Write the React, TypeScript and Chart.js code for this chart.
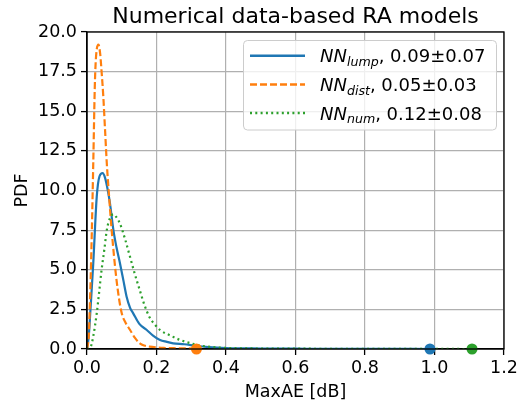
import React, { useEffect, useRef } from "react";
import { Chart, registerables } from "chart.js";

Chart.register(...registerables);

const lumpX = [0, 0.005, 0.01, 0.018, 0.028, 0.036, 0.045, 0.052, 0.06, 0.066, 0.076, 0.085, 0.095, 0.105, 0.114, 0.124, 0.133, 0.15, 0.172, 0.19, 0.21, 0.23, 0.248, 0.28, 0.316, 0.35, 0.4, 0.5, 0.6, 0.7, 0.8, 0.9, 0.987];
const lumpY = [0, 0.8, 2.5, 5.4, 9.6, 10.9, 11.1, 10.8, 10.0, 9.2, 7.5, 6.4, 5.4, 4.3, 3.3, 2.6, 2.25, 1.6, 1.2, 0.85, 0.57, 0.45, 0.36, 0.3, 0.19, 0.12, 0.06, 0.03, 0.02, 0.01, 0.01, 0.005, 0];

const distX = [0, 0.005, 0.009, 0.014, 0.018, 0.023, 0.028, 0.033, 0.038, 0.042, 0.047, 0.052, 0.057, 0.064, 0.071, 0.078, 0.085, 0.092, 0.1, 0.11, 0.124, 0.138, 0.152, 0.165, 0.18, 0.2, 0.22, 0.25, 0.28, 0.315];
const distY = [0, 0.8, 3.3, 7.5, 11.7, 17.0, 18.9, 19.2, 18.6, 17.5, 15.9, 13.8, 11.7, 9.5, 7.5, 5.8, 4.35, 3.2, 2.25, 1.7, 1.2, 0.7, 0.36, 0.22, 0.15, 0.1, 0.07, 0.05, 0.04, 0.02];

const numX = [0, 0.01, 0.018, 0.028, 0.035, 0.042, 0.05, 0.057, 0.065, 0.076, 0.085, 0.095, 0.11, 0.124, 0.138, 0.152, 0.165, 0.18, 0.195, 0.21, 0.24, 0.268, 0.3, 0.316, 0.35, 0.4, 0.5, 0.6, 0.7, 0.8, 0.9, 1.0, 1.108];
const numY = [0, 0.1, 0.8, 2.25, 3.6, 5.0, 6.3, 7.5, 8.2, 8.5, 8.3, 7.9, 6.9, 5.8, 4.7, 3.7, 2.8, 2.0, 1.55, 1.2, 0.85, 0.57, 0.35, 0.25, 0.15, 0.07, 0.03, 0.02, 0.015, 0.01, 0.01, 0.005, 0];

const maxX = [0.315, 0.987, 1.108];
const maxY = [0, 0, 0];

const seriesNames = ["lump", "dist", "num"];
const seriesStats = [", 0.09±0.07", ", 0.05±0.03", ", 0.12±0.08"];
const colors = ["#1f77b4", "#ff7f0e", "#2ca02c"];
const dashes = [[], [7, 3], [2, 3.3]];

const titleText = "Numerical data-based RA models";
const xLabel = "MaxAE [dB]";
const yLabel = "PDF";

const FONT = "'DejaVu Sans', sans-serif";

const pts = (xs: number[], ys: number[]) => xs.map((x, i) => ({ x, y: ys[i] }));

export default function App() {
  const ref = useRef<HTMLCanvasElement | null>(null);
  useEffect(() => {
    if (!ref.current) return;
    const overlay = {
      id: "overlay",
      afterDraw(chart: any) {
        const ctx = chart.ctx;
        const a = chart.chartArea;
        ctx.save();
        ctx.strokeStyle = "#000";
        ctx.lineWidth = 1.3;
        ctx.strokeRect(a.left, a.top, a.right - a.left, a.bottom - a.top);
        ctx.fillStyle = "#000";
        ctx.font = `22px ${FONT}`;
        ctx.textAlign = "center";
        ctx.textBaseline = "alphabetic";
        ctx.fillText(titleText, (a.left + a.right) / 2, 23);
        ctx.font = `17.5px ${FONT}`;
        ctx.fillText(xLabel, (a.left + a.right) / 2, 397);
        ctx.save();
        ctx.translate(27, (a.top + a.bottom) / 2);
        ctx.rotate(-Math.PI / 2);
        ctx.textBaseline = "alphabetic";
        ctx.fillText(yLabel, 0, 0);
        ctx.restore();
        const bx = 243.5, by = 40.5, bw = 253, bh = 89.5, r = 4;
        ctx.beginPath();
        ctx.moveTo(bx + r, by);
        ctx.lineTo(bx + bw - r, by);
        ctx.quadraticCurveTo(bx + bw, by, bx + bw, by + r);
        ctx.lineTo(bx + bw, by + bh - r);
        ctx.quadraticCurveTo(bx + bw, by + bh, bx + bw - r, by + bh);
        ctx.lineTo(bx + r, by + bh);
        ctx.quadraticCurveTo(bx, by + bh, bx, by + bh - r);
        ctx.lineTo(bx, by + r);
        ctx.quadraticCurveTo(bx, by, bx + r, by);
        ctx.closePath();
        ctx.fillStyle = "rgba(255,255,255,0.8)";
        ctx.fill();
        ctx.strokeStyle = "#cccccc";
        ctx.lineWidth = 1;
        ctx.stroke();
        const rows = [55.7, 84.5, 113];
        for (let i = 0; i < 3; i++) {
          const y = rows[i];
          ctx.strokeStyle = colors[i];
          ctx.lineWidth = 2.5;
          ctx.setLineDash(dashes[i]);
          ctx.beginPath();
          ctx.moveTo(250, y);
          ctx.lineTo(305, y);
          ctx.stroke();
          ctx.setLineDash([]);
          ctx.fillStyle = "#000";
          ctx.textAlign = "left";
          ctx.textBaseline = "alphabetic";
          const base = y + 6.5;
          let x = 320;
          ctx.font = `italic 18px ${FONT}`;
          ctx.fillText("NN", x, base);
          x += ctx.measureText("NN").width;
          ctx.font = `italic 12.6px ${FONT}`;
          ctx.fillText(seriesNames[i], x, base + 3.8);
          x += ctx.measureText(seriesNames[i]).width;
          ctx.font = `18px ${FONT}`;
          ctx.fillText(seriesStats[i], x, base);
        }
        ctx.restore();
      },
    };
    const lineDs = (xs: number[], ys: number[], i: number, order: number) => ({
      data: pts(xs, ys),
      showLine: true,
      borderColor: colors[i],
      backgroundColor: colors[i],
      borderWidth: 2.2,
      borderDash: dashes[i],
      pointRadius: 0,
      tension: 0.3,
      cubicInterpolationMode: "monotone" as const,
      fill: false,
      order,
    });
    const chart = new Chart(ref.current, {
      type: "scatter",
      data: {
        datasets: [
          lineDs(lumpX, lumpY, 0, 3),
          lineDs(distX, distY, 1, 2),
          lineDs(numX, numY, 2, 1),
          {
            data: pts(maxX, maxY),
            pointRadius: 5.5,
            pointBackgroundColor: [colors[1], colors[0], colors[2]],
            pointBorderWidth: 0,
            borderWidth: 0,
            showLine: false,
            clip: false as any,
            order: 0,
          } as any,
        ],
      },
      options: {
        responsive: false,
        animation: false,
        layout: { padding: { top: 32, right: 20, left: 0, bottom: 0 } },
        plugins: {
          legend: { display: false },
          tooltip: { enabled: false },
          title: { display: false },
        },
        scales: {
          x: {
            type: "linear",
            min: 0,
            max: 1.2,
            afterFit: (s: any) => {
              s.height = 51;
            },
            ticks: {
              stepSize: 0.2,
              color: "#000",
              padding: 3,
              font: { family: FONT, size: 17.5 },
              callback: (v: any) => Number(v).toFixed(1),
              maxRotation: 0,
            },
            grid: { color: "#b0b0b0", lineWidth: 1.2, tickLength: 6, tickColor: "#000", tickWidth: 1.3 },
            border: { color: "#000", width: 1.3 },
          },
          y: {
            type: "linear",
            min: 0,
            max: 20,
            afterFit: (s: any) => {
              s.width = 87;
            },
            ticks: {
              stepSize: 2.5,
              color: "#000",
              padding: 4,
              font: { family: FONT, size: 17.5 },
              callback: (v: any) => Number(v).toFixed(1),
            },
            grid: { color: "#b0b0b0", lineWidth: 1.2, tickLength: 6, tickColor: "#000", tickWidth: 1.3 },
            border: { color: "#000", width: 1.3 },
          },
        },
      },
      plugins: [overlay],
    });
    return () => chart.destroy();
  }, []);
  return (
    <div style={{ position: "absolute", left: 0, top: 0, width: 524, height: 400, background: "#fff" }}>
      <canvas ref={ref} width={524} height={400} style={{ width: 524, height: 400 }} />
    </div>
  );
}
